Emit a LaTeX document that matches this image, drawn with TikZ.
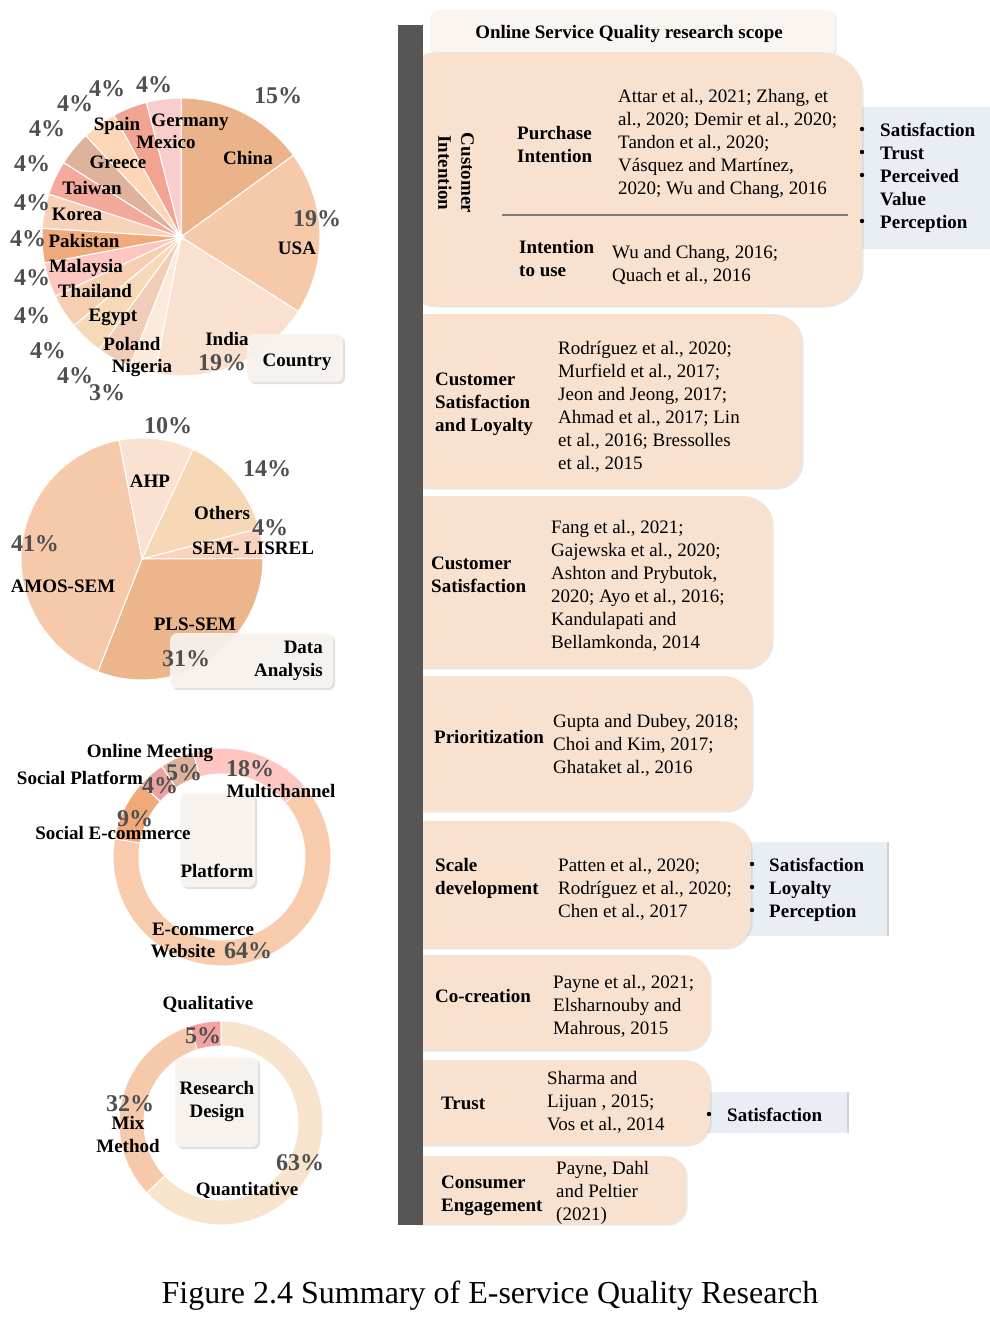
\documentclass[tikz,border=0pt]{standalone}
\usepackage{fontspec}
\setmainfont{Liberation Serif}
\usetikzlibrary{shadows}

\definecolor{peach}{HTML}{F9E1CF}
\definecolor{sidefill}{HTML}{E9EDF4}
\definecolor{barcol}{HTML}{565656}
\definecolor{pctgray}{HTML}{4F4F4F}
\definecolor{tagfill}{HTML}{FAF5F0}
\definecolor{rulegray}{HTML}{7A7A7A}
% country pie
\definecolor{cChina}{HTML}{EBB38A}
\definecolor{cUSA}{HTML}{F6C9A9}
\definecolor{cIndia}{HTML}{FAE1CF}
\definecolor{cNigeria}{HTML}{FCEADC}
\definecolor{cPoland}{HTML}{F0CDB6}
\definecolor{cEgypt}{HTML}{F6D9B6}
\definecolor{cThailand}{HTML}{F6CFB2}
\definecolor{cMalaysia}{HTML}{FDC6C0}
\definecolor{cPakistan}{HTML}{F1AA7B}
\definecolor{cKorea}{HTML}{F8D2B8}
\definecolor{cTaiwan}{HTML}{F5A99A}
\definecolor{cGreece}{HTML}{DEB29B}
\definecolor{cSpain}{HTML}{FCD6B6}
\definecolor{cMexico}{HTML}{F2A493}
\definecolor{cGermany}{HTML}{F8CDCB}
% data analysis pie
\definecolor{cAHP}{HTML}{FAE1D1}
\definecolor{cOthers}{HTML}{F6D8B6}
\definecolor{cLisrel}{HTML}{F8D3BE}
\definecolor{cPLS}{HTML}{ECB58B}
\definecolor{cAMOS}{HTML}{F6C9AA}
% platform ring
\definecolor{cMulti}{HTML}{FDC6C0}
\definecolor{cWeb}{HTML}{F8CBAD}
\definecolor{cSocE}{HTML}{F2A97A}
\definecolor{cSocP}{HTML}{E9A3A2}
\definecolor{cMeet}{HTML}{DDB29C}
% research design ring
\definecolor{cQual}{HTML}{F2A2A0}
\definecolor{cQuant}{HTML}{F8E4CD}
\definecolor{cMix}{HTML}{F6C9AB}

% pie wedge about the scope origin: radius, start, end, colour
\newcommand\pieseg[4]{\fill[#4,seg] (0,0) -- (#2:#1) arc[start angle=#2,end angle=#3,radius=#1] -- cycle;}
% ring segment about the scope origin: outer, inner, start, end, colour
\newcommand\ringseg[5]{\fill[#5,seg] (#3:#1) arc[start angle=#3,end angle=#4,radius=#1] -- (#4:#2) arc[start angle=#4,end angle=#3,radius=#2] -- cycle;}

\tikzset{
  every node/.style={inner sep=0pt},
  seg/.style={draw=white, line width=1pt},
  lbl/.style={font=\bfseries\fontsize{19}{23}\selectfont, anchor=base},
  pct/.style={font=\bfseries\fontsize{24}{26}\selectfont, text=pctgray, anchor=base},
  cite/.style={font=\fontsize{19}{23}\selectfont, align=left, anchor=base west},
  head/.style={font=\bfseries\fontsize{19}{23}\selectfont, align=left, anchor=base west},
  scopebox/.style={fill=peach, rounded corners=#1, anchor=north west,
    drop shadow={shadow xshift=1.5pt, shadow yshift=-1.5pt, opacity=0.18}},
  sidebox/.style={fill=sidefill, anchor=north west,
    drop shadow={shadow xshift=2pt, shadow yshift=0pt, opacity=0.35}},
  tagbox/.style={fill=tagfill, fill opacity=0.9, rounded corners=7pt, anchor=north west,
    drop shadow={shadow xshift=2pt, shadow yshift=-2pt, opacity=0.25}},
  dot/.style={fill=black},
}

\begin{document}
\begin{tikzpicture}[x=1pt,y=-1pt]
\useasboundingbox (0,0) rectangle (990,1331);
\fill[white] (0,0) rectangle (990,1331);

%% ---------- Country pie ----------
\begin{scope}[shift={(181,237)}]
  \pieseg{139}{-90}{-36}{cChina}
  \pieseg{139}{-36}{32.4}{cUSA}
  \pieseg{139}{32.4}{100.8}{cIndia}
  \pieseg{139}{100.8}{111.6}{cNigeria}
  \pieseg{139}{111.6}{126}{cPoland}
  \pieseg{139}{126}{140.4}{cEgypt}
  \pieseg{139}{140.4}{154.8}{cThailand}
  \pieseg{139}{154.8}{169.2}{cMalaysia}
  \pieseg{139}{169.2}{183.6}{cPakistan}
  \pieseg{139}{183.6}{198}{cKorea}
  \pieseg{139}{198}{212.4}{cTaiwan}
  \pieseg{139}{212.4}{226.8}{cGreece}
  \pieseg{139}{226.8}{241.2}{cSpain}
  \pieseg{139}{241.2}{255.6}{cMexico}
  \pieseg{139}{255.6}{270}{cGermany}
\end{scope}
\node[tagbox, minimum width=96, minimum height=48] (tCountry) at (247,334) {};
\node[lbl] (lCountry) at (297,366) {Country};

\node[lbl] (lChina) at (248,164) {China};
\node[lbl] (lUSA) at (297,254) {USA};
\node[lbl] (lIndia) at (227,345) {India};
\node[lbl] (lNigeria) at (142,372) {Nigeria};
\node[lbl] (lPoland) at (132,350) {Poland};
\node[lbl] (lEgypt) at (113,321) {Egypt};
\node[lbl] (lThailand) at (95,297) {Thailand};
\node[lbl] (lMalaysia) at (86,272) {Malaysia};
\node[lbl] (lPakistan) at (84,247) {Pakistan};
\node[lbl] (lKorea) at (77,220) {Korea};
\node[lbl] (lTaiwan) at (92,194) {Taiwan};
\node[lbl] (lGreece) at (118,168) {Greece};
\node[lbl] (lSpain) at (117,130) {Spain};
\node[lbl] (lMexico) at (166,148) {Mexico};
\node[lbl] (lGermany) at (190,126) {Germany};

\node[pct] (pChina) at (278,103) {15\%};
\node[pct] (pUSA) at (317,226) {19\%};
\node[pct] (pIndia) at (222,370) {19\%};
\node[pct] (pNigeria) at (107,400) {3\%};
\node[pct] (pPoland) at (75,383) {4\%};
\node[pct] (pEgypt) at (48,358) {4\%};
\node[pct] (pThailand) at (32,323) {4\%};
\node[pct] (pMalaysia) at (32,285) {4\%};
\node[pct] (pPakistan) at (28,246) {4\%};
\node[pct] (pKorea) at (32,210) {4\%};
\node[pct] (pTaiwan) at (32,171) {4\%};
\node[pct] (pGreece) at (47,136) {4\%};
\node[pct] (pSpain) at (75,111) {4\%};
\node[pct] (pMexico) at (107,96) {4\%};
\node[pct] (pGermany) at (154,92) {4\%};

%% ---------- Data analysis pie ----------
\begin{scope}[shift={(142,559)}]
  \pieseg{121}{-101}{-65}{cAHP}
  \pieseg{121}{-65}{-14.6}{cOthers}
  \pieseg{121}{-14.6}{-0.2}{cLisrel}
  \pieseg{121}{-0.2}{111.4}{cPLS}
  \pieseg{121}{111.4}{259}{cAMOS}
\end{scope}
\node[tagbox, minimum width=163, minimum height=55] (tData) at (170,633) {};
\node[lbl, align=right, anchor=base east] (lData) at (323,676) {Data\\Analysis};

\node[pct] (pAHP) at (168,433) {10\%};
\node[lbl] (lAHP) at (150,487) {AHP};
\node[pct] (pOthers) at (267,476) {14\%};
\node[lbl] (lOthers) at (222,519) {Others};
\node[pct] (pLisrel) at (270,535) {4\%};
\node[lbl] (lLisrel) at (253,554) {SEM- LISREL};
\node[pct] (pAMOS) at (35,551) {41\%};
\node[lbl] (lAMOS) at (63,592) {AMOS-SEM};
\node[lbl] (lPLS) at (195,630) {PLS-SEM};
\node[pct] (pPLS) at (186,666) {31\%};

%% ---------- Platform ring ----------
\begin{scope}[shift={(222,857)}]
  \ringseg{109}{83}{-105.5}{-40.7}{cMulti}
  \ringseg{109}{83}{-40.7}{189.7}{cWeb}
  \ringseg{109}{83}{189.7}{222.1}{cSocE}
  \ringseg{109}{83}{222.1}{236.5}{cSocP}
  \ringseg{109}{83}{236.5}{254.5}{cMeet}
\end{scope}
\node[tagbox, minimum width=75, minimum height=94] (tPlatform) at (180,793) {};
\node[lbl] (lPlatform) at (217,877) {Platform};

\node[lbl] (lMeet) at (150,757) {Online Meeting};
\node[lbl] (lSocP) at (80,784) {Social Platform};
\node[pct] (pSocP) at (160,793) {4\%};
\node[pct] (pMeet) at (184,780) {5\%};
\node[pct] (pMulti) at (250,776) {18\%};
\node[lbl] (lMulti) at (281,797) {Multichannel};
\node[pct] (pSocE) at (135,826) {9\%};
\node[lbl] (lSocE) at (113,839) {Social E-commerce};
\node[lbl] (lWeb) at (203,935) {E-commerce};
\node[lbl] (lWeb2) at (183,957) {Website};
\node[pct] (pWeb) at (248,958) {64\%};

%% ---------- Research design ring ----------
\begin{scope}[shift={(221,1123)}]
  \ringseg{102}{77}{-108}{-90}{cQual}
  \ringseg{102}{77}{-90}{136.8}{cQuant}
  \ringseg{102}{77}{136.8}{252}{cMix}
\end{scope}
\node[tagbox, minimum width=83, minimum height=90] (tDesign) at (175,1057) {};
\node[lbl, align=center] (lDesign) at (217,1117) {Research\\Design};

\node[lbl] (lQual) at (208,1009) {Qualitative};
\node[pct] (pQual) at (203,1043) {5\%};
\node[pct] (pMix) at (130,1111) {32\%};
\node[lbl, align=center] (lMix) at (128,1152) {Mix\\Method};
\node[pct] (pQuant) at (300,1170) {63\%};
\node[lbl] (lQuant) at (247,1195) {Quantitative};

%% ---------- Research scope panel ----------
\node[sidebox, minimum width=150, minimum height=142] (s1) at (840,107) {};
\node[sidebox, minimum width=157, minimum height=94] (s5) at (730,842) {};
\node[sidebox, minimum width=157, minimum height=41] (s7) at (690,1092) {};

\node[fill=tagfill, rounded corners=8pt, anchor=north west, minimum width=405, minimum height=46,
  drop shadow={shadow xshift=1.5pt, shadow yshift=-1pt, opacity=0.15}] (title) at (430,10) {};
\node[lbl] (lTitle) at (629,38) {Online Service Quality research scope};

\node[scopebox=40pt, minimum width=464, minimum height=254] (b1) at (398,52) {};
\node[scopebox=28pt, minimum width=404, minimum height=174] (b2) at (398,314) {};
\node[scopebox=28pt, minimum width=374, minimum height=172] (b3) at (398,496) {};
\node[scopebox=28pt, minimum width=354, minimum height=135] (b4) at (398,676) {};
\node[scopebox=28pt, minimum width=353, minimum height=127] (b5) at (398,821) {};
\node[scopebox=25pt, minimum width=312, minimum height=95] (b6) at (398,955) {};
\node[scopebox=25pt, minimum width=312, minimum height=85] (b7) at (398,1060) {};
\node[scopebox=20pt, minimum width=288, minimum height=68] (b8) at (398,1156) {};

\node[fill=barcol, anchor=north west, minimum width=25, minimum height=1200] (bar) at (398,25) {};

% Customer intention (multi-line nodes sit on the baseline of their last line)
\node[font=\bfseries\fontsize{19}{23}\selectfont, rotate=-90, align=center] (hCI) at (456,173) {Customer\\Intention};
\node[head] (hPI) at (517,162) {Purchase\\Intention};
\node[cite] (cPI) at (618,194) {Attar et al., 2021; Zhang, et\\al., 2020; Demir et al., 2020;\\Tandon et al., 2020;\\Vásquez and Martínez,\\2020; Wu and Chang, 2016};
\coordinate (ruleL) at (502,215);
\coordinate (ruleR) at (848,215);
\draw[rulegray, line width=1.5pt] (ruleL) -- (ruleR);
\node[head] (hIU) at (519,276) {Intention\\to use};
\node[cite] (cIU) at (612,281) {Wu and Chang, 2016;\\Quach et al., 2016};
\node[head] (sT1) at (880,228) {Satisfaction\\Trust\\Perceived\\Value\\Perception};
\foreach \yy in {129,152,175,221} \fill[dot] (862,\yy) circle[radius=2.2];

% Satisfaction and loyalty
\node[head] (h2) at (435,431) {Customer\\Satisfaction\\and Loyalty};
\node[cite] (c2) at (558,469) {Rodríguez et al., 2020;\\Murfield et al., 2017;\\Jeon and Jeong, 2017;\\Ahmad et al., 2017; Lin\\et al., 2016; Bressolles\\et al., 2015};

% Satisfaction
\node[head] (h3) at (431,592) {Customer\\Satisfaction};
\node[cite] (c3) at (551,648) {Fang et al., 2021;\\Gajewska et al., 2020;\\Ashton and Prybutok,\\2020; Ayo et al., 2016;\\Kandulapati and\\Bellamkonda, 2014};

% Prioritization
\node[head] (h4) at (434,743) {Prioritization};
\node[cite] (c4) at (553,773) {Gupta and Dubey, 2018;\\Choi and Kim, 2017;\\Ghataket al., 2016};

% Scale development
\node[head] (h5) at (435,894) {Scale\\development};
\node[cite] (c5) at (558,917) {Patten et al., 2020;\\Rodríguez et al., 2020;\\Chen et al., 2017};
\node[head] (sT5) at (769,917) {Satisfaction\\Loyalty\\Perception};
\foreach \yy in {864,887,910} \fill[dot] (752,\yy) circle[radius=2.2];

% Co-creation
\node[head] (h6) at (435,1002) {Co-creation};
\node[cite] (c6) at (553,1034) {Payne et al., 2021;\\Elsharnouby and\\Mahrous, 2015};

% Trust
\node[head] (h7) at (441,1109) {Trust};
\node[cite] (c7) at (547,1130) {Sharma and\\Lijuan , 2015;\\Vos et al., 2014};
\node[head] (sT7) at (727,1121) {Satisfaction};
\fill[dot] (709,1114) circle[radius=2.2];

% Consumer engagement
\node[head] (h8) at (441,1211) {Consumer\\Engagement};
\node[cite] (c8) at (556,1220) {Payne, Dahl\\and Peltier\\(2021)};

%% ---------- Caption ----------
\node[font=\fontsize{32}{36}\selectfont, anchor=base] (cap) at (490,1303) {Figure 2.4 Summary of E-service Quality Research};
\end{tikzpicture}
\end{document}
